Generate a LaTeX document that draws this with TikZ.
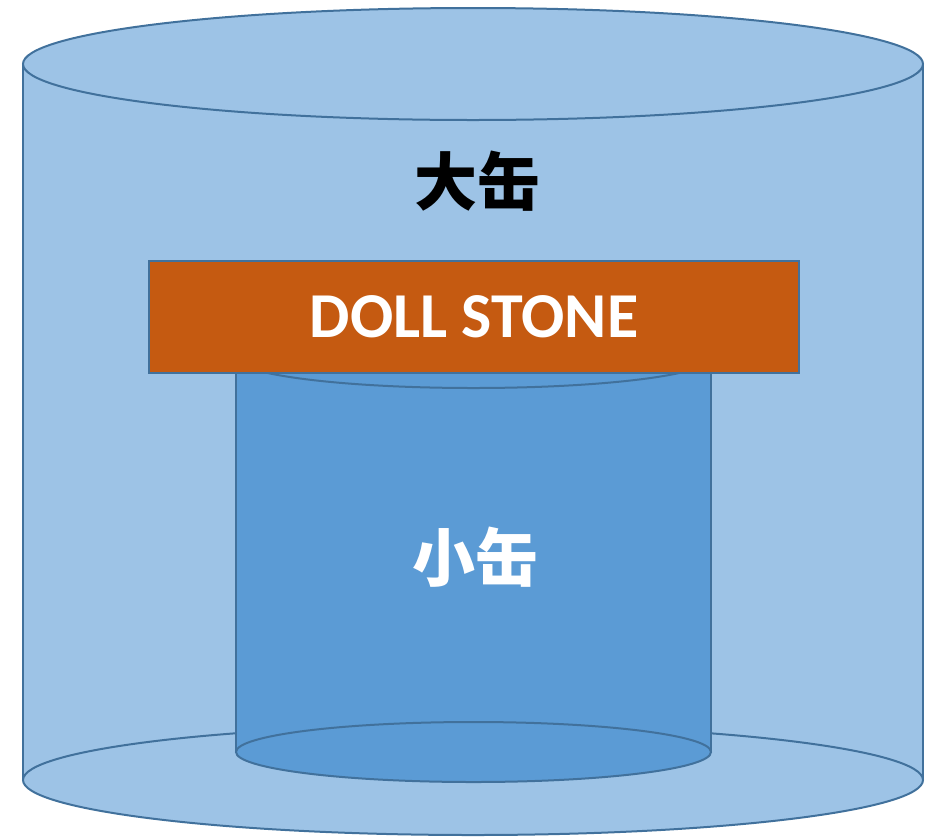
\documentclass[tikz,border=0pt]{standalone}
\usepackage{fontspec}
\setmainfont{Carlito}
\newfontfamily\cjk{Noto Sans CJK SC}
\definecolor{bigfill}{HTML}{9DC3E6}
\definecolor{smallfill}{HTML}{5B9BD5}
\definecolor{edge}{HTML}{41719C}
\definecolor{stonefill}{HTML}{C55A11}
\tikzset{
  outline/.style={draw=edge, line width=2pt},
  stonebox/.style={outline, fill=stonefill, minimum width=650pt, minimum height=112pt, inner sep=0pt, font=\fontsize{64}{64}\selectfont\bfseries, text=white},
  cjklabel/.style={font=\cjk\fontsize{63}{63}\selectfont\bfseries, inner sep=0pt}
}
\begin{document}
\begin{tikzpicture}[x=1pt,y=-1pt]
\useasboundingbox (0,0) rectangle (925,836);
% big can
\fill[bigfill] (23,64) rectangle (923,780);
\fill[bigfill] (473,780) ellipse [x radius=450pt, y radius=55pt];
\draw[outline] (23,64) -- (23,780);
\draw[outline] (923,64) -- (923,780);
\draw[outline] (473,780) ellipse [x radius=450pt, y radius=55pt];
\draw[outline, fill=bigfill] (473,64) ellipse [x radius=450pt, y radius=56pt];
% small can
\fill[smallfill] (236,358) rectangle (711,752);
\draw[outline, fill=smallfill] (473.5,358) ellipse [x radius=237.5pt, y radius=30pt];
\draw[outline] (236,358) -- (236,752);
\draw[outline] (711,358) -- (711,752);
\draw[outline, fill=smallfill] (473.5,752) ellipse [x radius=237.5pt, y radius=30pt];
% stone
\node[stonebox] (stone) at (474,317) {DOLL STONE};
% labels
\node[cjklabel, text=black] (big) at (477,181) {大缶};
\node[cjklabel, text=white] (small) at (475,557) {小缶};
\end{tikzpicture}
\end{document}
